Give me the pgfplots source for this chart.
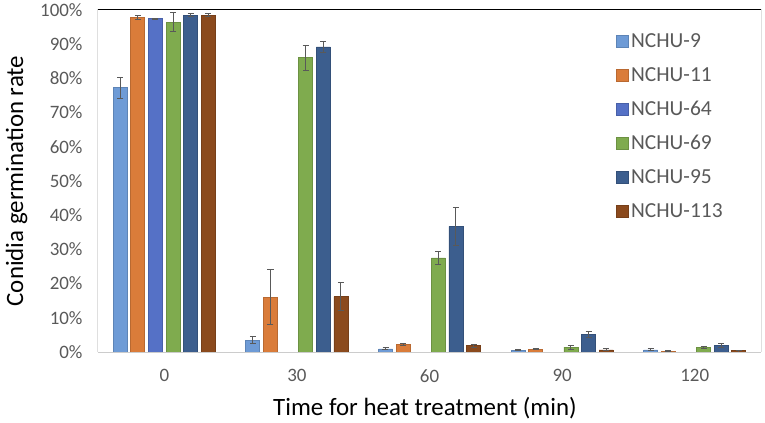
\documentclass[border=0pt]{standalone}
\usepackage{pgfplots}
\pgfplotsset{compat=1.18}
\usepackage{fontspec}
\setmainfont{Carlito}
\definecolor{c9}{HTML}{6E9BD6}
\definecolor{c11}{HTML}{DA7C3A}
\definecolor{c64}{HTML}{5571C6}
\definecolor{c69}{HTML}{7FAB4E}
\definecolor{c95}{HTML}{3C5E8E}
\definecolor{c113}{HTML}{8B4A1D}
\definecolor{tickgray}{HTML}{595959}
\definecolor{errgray}{HTML}{595959}
\begin{document}
\begin{tikzpicture}
\useasboundingbox (-98bp,-71bp) rectangle (667bp,352bp);
\begin{axis}[
  at={(0,0)}, anchor=south west,
  scale only axis, width=663bp, height=342bp,
  xmin=-0.5, xmax=4.5, ymin=0, ymax=100,
  ybar=3.6bp, bar width=14bp,
  axis line style={draw=none},
  major tick length=0pt,
  xtick={0,1,2,3,4}, xticklabels={0,30,60,90,120},
  ytick={0,10,...,100},
  yticklabel={\pgfmathprintnumber{\tick}\%},
  /pgf/number format/assume math mode=true,
  ticklabel style={font=\fontsize{19}{22}\selectfont, text=tickgray},
  yticklabel style={xshift=-12bp},
  xticklabel style={yshift=-14bp},
  xlabel={Time for heat treatment (min)},
  ylabel={Conidia germination rate},
  label style={font=\fontsize{25}{28}\selectfont},
  xlabel style={at={(axis description cs:0.4932,-0.1871)}, anchor=base},
  ylabel style={at={(axis description cs:-0.1131,0.5)}, anchor=base},
  legend style={at={(rel axis cs:0.777,0.945)}, anchor=north west, draw=none, fill=none,
    font=\fontsize{21.5}{24}\selectfont, text=tickgray, row sep=11bp,
    nodes={inner sep=2bp, text height=15bp, text depth=4bp}},
  legend cell align=left,
  legend image code/.code={\fill[#1] (0bp,-5bp) rectangle (12bp,7bp);},
  error bars/y dir=both, error bars/y explicit,
  error bars/error bar style={errgray, line width=1bp},
  error bars/error mark options={errgray, line width=1bp, rotate=90, mark size=3bp},
  every axis plot/.append style={line width=0.8bp},
]
\addplot[fill=c9, draw=c9!85!black] coordinates {(0,77.3) +- (0,3.1) (1,3.5) +- (0,1.0) (2,0.9) +- (0,0.3) (3,0.5) +- (0,0.2) (4,0.6) +- (0,0.3)};
\addplot[fill=c11, draw=c11!85!black] coordinates {(0,97.8) +- (0,0.6) (1,16.0) +- (0,8.0) (2,2.1) +- (0,0.3) (3,0.8) +- (0,0.2) (4,0.2) +- (0,0.1)};
\addplot[fill=c64, draw=c64!85!black] coordinates {(0,97.4) +- (0,0.2)};
\addplot[fill=c69, draw=c69!85!black] coordinates {(0,96.4) +- (0,2.8) (1,86.0) +- (0,3.7) (2,27.5) +- (0,1.8) (3,1.4) +- (0,0.6) (4,1.3) +- (0,0.3)};
\addplot[fill=c95, draw=c95!85!black] coordinates {(0,98.5) +- (0,0.5) (1,89.2) +- (0,1.5) (2,36.7) +- (0,5.5) (3,5.1) +- (0,0.8) (4,2.0) +- (0,0.6)};
\addplot[fill=c113, draw=c113!85!black] coordinates {(0,98.5) +- (0,0.5) (1,16.2) +- (0,4.0) (2,1.8) +- (0,0.5) (3,0.6) +- (0,0.3) (4,0.4) +- (0,0.1)};
\legend{NCHU-9,NCHU-11,NCHU-64,NCHU-69,NCHU-95,NCHU-113}
\draw[black, line width=1bp] (rel axis cs:0,0) -- (rel axis cs:0,1) -- (rel axis cs:1,1) -- (rel axis cs:1,0);
\draw[black!20, line width=1bp] (rel axis cs:0,0) -- (rel axis cs:1,0);
\end{axis}
\end{tikzpicture}
\end{document}
